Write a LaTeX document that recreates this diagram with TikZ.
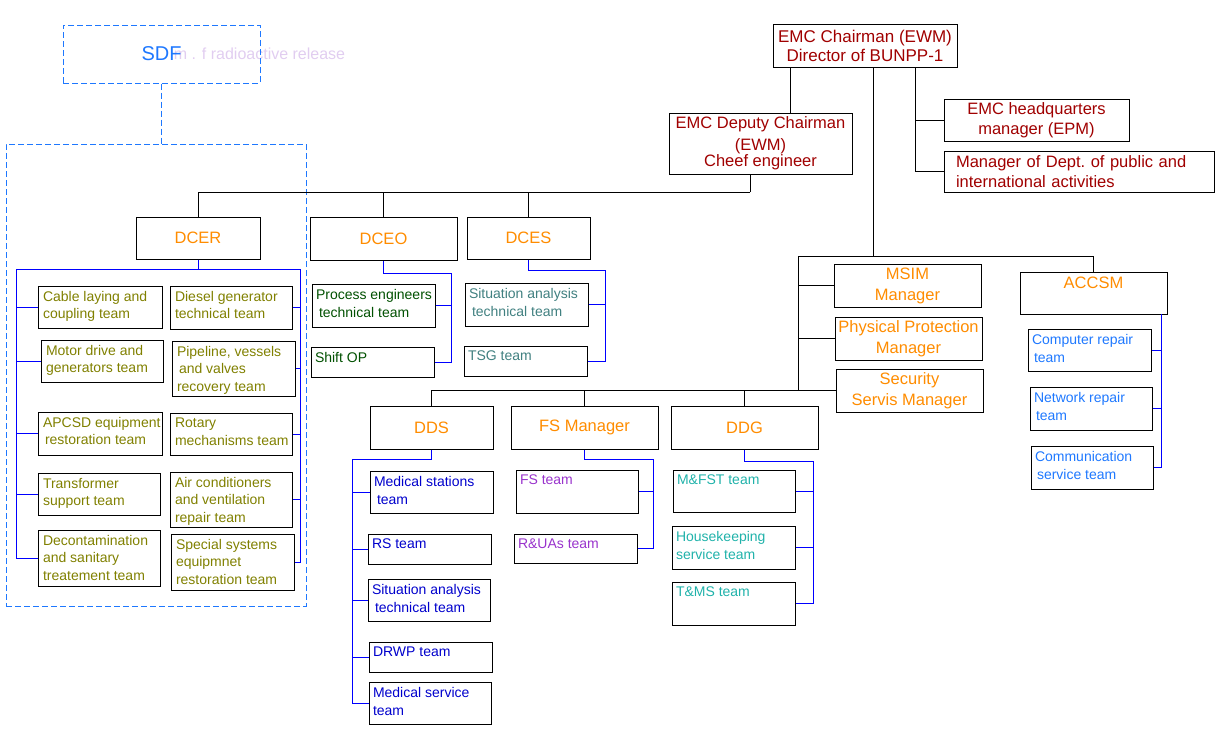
\documentclass[tikz,border=0pt]{standalone}
\usepackage{fontspec}
\setmainfont{Liberation Sans}
\usepackage{xcolor}
\usepackage{tikz}
\usetikzlibrary{fit}

\definecolor{chairred}{RGB}{160,0,0}
\definecolor{headorange}{RGB}{255,140,0}
\definecolor{teamolive}{RGB}{128,128,0}
\definecolor{teamgreen}{RGB}{0,80,0}
\definecolor{teamgray}{RGB}{64,128,128}
\definecolor{teamblue}{RGB}{0,0,204}
\definecolor{teampurple}{RGB}{153,51,204}
\definecolor{teamteal}{RGB}{32,178,170}
\definecolor{sdfblue}{RGB}{30,120,255}
\definecolor{ghostlav}{RGB}{225,205,240}

\begin{document}
\begin{tikzpicture}[x=1pt, y=-1pt, line width=1pt,
    box/.style={draw, inner sep=0pt},
    chief/.style={box, text=chairred, align=center, font=\fontsize{16.5}{19.5}\selectfont},
    head/.style={box, text=headorange, align=center, minimum width=147pt, minimum height=43pt, font=\fontsize{16.5}{21}\selectfont},
    tm/.style={anchor=north west, inner sep=0pt, align=left, font=\fontsize{14}{18}\selectfont},
    bus/.style={blue},
    dashbox/.style={draw=sdfblue, inner sep=0pt, dash pattern=on 6pt off 3pt}]
    \useasboundingbox (0,0) rectangle (1220,728);

    \node[anchor=west, text=ghostlav, font=\fontsize{16}{19}\selectfont] (sdfnote) at (170,54) {m . f radioactive release};
    \node[dashbox, minimum width=197pt, minimum height=58pt, text=sdfblue, font=\fontsize{20}{24}\selectfont] (sdf) at (161.5,54) {SDF};
    \node[dashbox, fit={(6,144) (306,606)}] (sdfgrp) {};
    \draw[dashbox] (sdf.south) -- (sdfgrp.north -| sdf.south);

    \node[chief, minimum width=184pt, minimum height=43pt, font=\fontsize{17}{19}\selectfont] (chair) at (865,45.5) {EMC Chairman (EWM)\\Director of BUNPP-1};
    \node[chief, minimum width=183pt, minimum height=61pt] (deputy) at (760.5,143.5) {EMC Deputy Chairman\\[2pt](EWM)\\[-3pt]Cheef engineer};
    \node[chief, minimum width=185pt, minimum height=42pt] (hq) at (1036.5,120) {EMC headquarters\\manager (EPM)};
    \node[chief, minimum width=270pt, minimum height=41pt, align=left, text width=246pt] (dept) at (1079,171.5) {Manager of Dept.\ of public and\\international activities};

    \node[head, minimum width=124pt, minimum height=42pt] (dcer) at (198,238) {DCER};
    \node[head] (dceo) at (383.5,238.5) {DCEO};
    \node[head, minimum width=123pt, minimum height=42pt] (dces) at (528.5,238) {DCES};
    \node[head] (msim) at (907.5,285.5) {MSIM\\Manager};
    \node[head] (pp) at (908.5,338.5) {Physical Protection\\Manager};
    \node[head] (sec) at (909.5,390.5) {Security\\Servis Manager};
    \node[head, minimum height=42pt] (accsm) at (1093.5,293) {ACCSM\\~};
    \node[head, minimum width=123pt] (dds) at (431.5,427.5) {DDS};
    \node[head] (fsm) at (584.5,427.5) {FS Manager};
    \node[head] (ddg) at (744.5,427.5) {DDG};

    \foreach \n/\xa/\ya/\xb/\yb/\txt in {
        cable/38/286/162/328/{Cable laying and\\coupling team},
        motor/41/340/163/382/{Motor drive and\\generators team},
        apcsd/38/412/162/455/{APCSD equipment\\\hspace*{2pt}restoration team},
        trans/38/473/160/515/{Transformer\\support team},
        decon/38/530/160/586/{Decontamination\\and sanitary\\treatement team},
        diesel/170/286/292/329/{Diesel generator\\technical team},
        pipe/172/341/295/396/{Pipeline, vessels\\\hspace*{2pt}and valves\\recovery team},
        rotary/170/413/292/455/{Rotary\\mechanisms team},
        air/170/472/292/527/{Air conditioners\\and ventilation\\repair team},
        special/171/534/294/590/{Special systems\\equipmnet\\restoration team}} {
        \node[box, fit={(\xa,\ya) (\xb,\yb)}] (\n) {};
        \node[tm, text=teamolive, font=\fontsize{14}{17.5}\selectfont] (\n-t) at ([shift={(5pt,-5pt)}]\n.north west) {\txt};
    }

    \foreach \n/\xa/\ya/\xb/\yb/\txt/\col in {
        proc/312/284/435/327/{Process engineers\\\hspace*{3pt}technical team}/teamgreen,
        shift/311/347/434/377/{Shift OP}/teamgreen,
        sa1/465/283/588/326/{Situation analysis\\\hspace*{3pt}technical team}/teamgray,
        tsg/464/346/587/376/{TSG team}/teamgray,
        medst/370/471/493/513/{Medical stations\\\hspace*{3pt}team}/teamblue,
        rs/368/534/491/564/{RS team}/teamblue,
        sa2/368/579/490/621/{Situation analysis\\\hspace*{3pt}technical team}/teamblue,
        drwp/369/642/492/672/{DRWP team}/teamblue,
        medsv/369/682/491/724/{Medical service\\team}/teamblue,
        fst/516/470/638/513/{FS team}/teampurple,
        rua/514/534/637/563/{R\&UAs team}/teampurple,
        mfst/673/470/795/512/{M\&FST team}/teamteal,
        house/672/526/795/569/{Housekeeping\\service team}/teamteal,
        tms/672/582/795/625/{T\&MS team}/teamteal,
        comp/1028/329/1151/371/{Computer repair\\\hspace*{2pt}team}/sdfblue,
        net/1030/387/1152/430/{Network repair\\\hspace*{2pt}team}/sdfblue,
        comm/1031/446/1153/489/{Communication\\\hspace*{2pt}service team}/sdfblue} {
        \node[box, fit={(\xa,\ya) (\xb,\yb)}] (\n) {};
        \node[tm, text=\col] (\n-t) at ([shift={(4pt,-5pt)}]\n.north west) {\txt};
    }

    \coordinate (cdep) at (790,67);
    \coordinate (cmid) at (873,67);
    \coordinate (cside) at (915,67);
    \coordinate (mbus) at (798,256);
    \coordinate (dbus) at (750,192);
    \draw (cdep) -- (cdep |- deputy.north);
    \draw (hq.west) -| (cside);
    \draw (dept.west) -| (cside);
    \draw (cmid) -- (cmid |- mbus);
    \draw (mbus) -| (accsm.north);
    \foreach \n in {msim,pp,sec}
        \draw (\n.west) -| (mbus);
    \foreach \n in {dds,fsm,ddg}
        \draw (sec.west) -| (\n.north);
    \draw (dbus) -- (dbus |- deputy.south);
    \foreach \n in {dcer,dceo,dces}
        \draw (\n.north) |- (dbus);

    \coordinate (dcerL) at (16,269);
    \coordinate (dcerR) at (300,269);
    \coordinate (dceoR) at (451,273);
    \coordinate (dcesR) at (605,270);
    \coordinate (ddsL) at (352,459);
    \coordinate (fsR) at (653,459);
    \coordinate (ddgR) at (813,461);
    \coordinate (accR) at (1161,314);
    \draw[bus] (dcer.south) |- (dcerL);
    \draw[bus] (dcer.south) |- (dcerR);
    \foreach \n in {cable,motor,apcsd,trans,decon}
        \draw[bus] (\n.west) -| (dcerL);
    \foreach \n in {diesel,pipe,rotary,air,special}
        \draw[bus] (\n.east) -| (dcerR);
    \draw[bus] (dceo.south) |- (dceoR);
    \foreach \n in {proc,shift}
        \draw[bus] (\n.east) -| (dceoR);
    \draw[bus] (dces.south) |- (dcesR);
    \foreach \n in {sa1,tsg}
        \draw[bus] (\n.east) -| (dcesR);
    \draw[bus] (dds.south) |- (ddsL);
    \foreach \n in {medst,rs,sa2,drwp,medsv}
        \draw[bus] (\n.west) -| (ddsL);
    \draw[bus] (fsm.south) |- (fsR);
    \foreach \n in {fst,rua}
        \draw[bus] (\n.east) -| (fsR);
    \draw[bus] (ddg.south) |- (ddgR);
    \foreach \n in {mfst,house,tms}
        \draw[bus] (\n.east) -| (ddgR);
    \foreach \n in {comp,net,comm}
        \draw[bus] (\n.east) -| (accR);
\end{tikzpicture}
\end{document}
